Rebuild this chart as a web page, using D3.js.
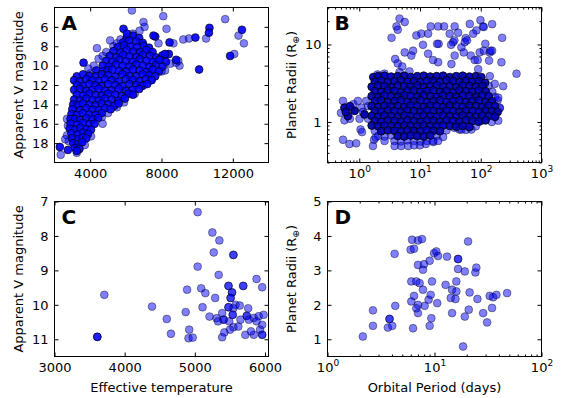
<!DOCTYPE html>
<html>
<head>
<meta charset="utf-8">
<script src="https://cdn.jsdelivr.net/npm/d3@7"></script>
<style>
  body { margin: 0; background: #fff; }
</style>
</head>
<body>
<svg id="fig" width="562" height="398"></svg>
<script>
// A: effective temperature (K) vs apparent V magnitude, all stars
// crowded locus (thousands of overlapping stars in the original)
const coreA = [
  [6050,7.1],[6400,6.9],[6750,7.15],
  [5850,7.6],[6200,7.4],[6580,7.5],[6950,7.65],
  [5550,8.1],[5900,7.9],[6250,8.05],[6620,8.1],[7000,7.95],[7300,8.15],
  [5300,8.5],[5700,8.65],[6050,8.4],[6420,8.55],[6800,8.6],[7150,8.4],[7500,8.6],
  [5100,9.0],[5450,9.15],[5850,8.9],[6200,9.05],[6600,9.1],[6950,8.9],[7350,9.0],[7700,9.15],[8050,8.95],
  [4900,9.5],[5250,9.6],[5650,9.4],[6000,9.55],[6400,9.6],[6780,9.35],[7150,9.5],[7520,9.65],[7880,9.4],[8250,9.6],
  [4700,10.0],[5050,10.1],[5450,9.9],[5820,10.05],[6200,10.1],[6580,9.9],[6950,10.0],[7320,10.15],[7700,9.9],[8050,10.1],
  [4350,10.5],[4700,10.6],[4980,10.45],[5250,10.4],[5620,10.55],[6000,10.6],[6400,10.4],[6780,10.5],[7150,10.65],[7520,10.4],[7850,10.6],
  [3250,11.1],[3600,10.9],[3950,11.05],[4300,11.1],[4650,10.9],[5000,11.0],[5400,11.15],[5800,10.9],[6200,11.05],[6580,11.1],[6950,10.9],[7300,11.0],[7650,11.1],
  [3100,11.5],[3420,11.65],[3780,11.4],[4130,11.55],[4480,11.6],[4830,11.4],[5200,11.5],[5600,11.65],[6000,11.4],[6380,11.5],[6760,11.6],[7120,11.4],[7450,11.5],
  [3250,12.0],[3600,12.1],[3950,11.9],[4300,12.05],[4650,12.1],[5000,11.9],[5400,12.0],[5800,12.15],[6200,11.9],[6580,12.0],[6920,12.1],[7200,11.9],
  [3100,12.5],[3420,12.4],[3780,12.6],[4130,12.5],[4480,12.4],[4830,12.6],[5200,12.55],[5600,12.4],[6000,12.6],[6380,12.5],[6750,12.4],
  [3250,13.0],[3600,13.1],[3950,12.9],[4300,13.05],[4650,13.1],[5000,12.9],[5400,13.0],[5780,13.15],[6150,12.9],[6400,13.0],
  [3100,13.5],[3420,13.6],[3780,13.4],[4130,13.55],[4480,13.6],[4830,13.4],[5200,13.5],[5580,13.65],[5950,13.4],
  [3050,14.0],[3300,14.1],[3600,13.9],[3950,14.05],[4300,14.1],[4650,13.9],[5000,14.0],[5350,14.15],[5600,13.9],
  [3000,14.5],[3420,14.6],[3780,14.4],[4130,14.55],[4480,14.6],[4830,14.4],[5150,14.5],
  [2950,15.0],[3250,15.1],[3600,14.9],[3950,15.05],[4300,15.1],[4650,14.9],
  [2900,15.5],[3150,15.5],[3420,15.6],[3780,15.4],[4130,15.55],[4450,15.4],
  [2900,16.0],[3250,16.1],[3600,15.9],[3950,16.05],[4250,16.0],
  [2850,16.5],[3150,16.6],[3450,16.4],[3780,16.55],[4050,16.6],
  [2950,17.0],[3300,17.1],[3600,16.9],[3880,17.05],
  [3000,17.5],[3300,17.6],[3600,17.4],[3780,17.5],
  [3050,18.0],[3300,18.1],[3550,17.9],
  [3150,18.5],[3400,18.6],[3250,18.8],
  [5870,6.2],[6060,6.7],[3630,9.7],[2300,18.4],[2750,18.7],
  [10690,6.1],[10660,6.6],[12510,6.3],[11850,9.0],[10110,10.4],[9900,7.1],
  [8450,7.6],[8820,9.4],[8410,8.8],[8200,8.8],[7890,9.4],[7650,7.0],[7550,6.9]
];
// scattered stars
const fieldA = [
  [6340,4.3],[8100,4.9],[6990,5.5],[7050,6.0],[8280,6.2],[11570,5.2],[10500,7.2],
  [12320,6.9],[12620,7.7],[12080,8.8],[9540,7.2],[9220,7.3],
  [8670,7.7],[9010,10.0],[8200,10.5],[7830,7.7],
  [8490,9.8],[8820,9.7],[7460,10.8],[6770,6.4],[6400,6.7],
  [5120,7.4],[4380,8.2],[4000,10.8],[4470,9.3],[8940,9.5],
  [4200,10.0],[3900,10.3],[4700,9.0],[4900,8.6],[5300,8.0],[5500,7.7],[5700,7.3],
  [4660,15.3],[5000,14.9],[5500,14.3],[5900,13.8],[6500,12.9],[7000,12.0],[7400,11.5],[8000,10.6],
  [2350,19.2],[2700,17.2],[2750,16.2],
  [2800,17.8],[2600,17.6],[3250,19.0],[3700,18.2],[4050,17.3],[2700,15.5],[4700,16.0]
];

// B: orbital period (days) vs planet radius (Earth radii), all candidates
const coreB = [
  [1.7,3.8],[2.05,3.9],[2.6,3.95],[3.35,3.85],[4.3,3.9],[5.5,3.95],[7.0,3.8],[9.0,3.9],[11.5,3.95],[14.7,3.85],[18.8,3.9],[24,3.95],[31,3.8],[39.5,3.9],[50.5,3.95],[65,3.85],[83,3.9],[102,3.8],
  [1.8,3.3],[2.3,3.4],[2.95,3.25],[3.8,3.35],[4.85,3.45],[6.2,3.3],[7.9,3.35],[10.2,3.25],[13,3.4],[16.6,3.35],[21.3,3.3],[27.3,3.45],[35,3.35],[44.7,3.25],[57,3.4],[73,3.3],[93,3.35],[118,3.2],
  [1.6,2.85],[2.05,2.95],[2.6,2.9],[3.35,2.8],[4.3,2.95],[5.5,2.9],[7.0,2.85],[9.0,2.95],[11.5,2.8],[14.7,2.9],[18.8,2.95],[24,2.85],[31,2.9],[39.5,2.8],[50.5,2.95],[65,2.9],[83,2.85],[106,2.9],
  [1.8,2.5],[2.3,2.45],[2.95,2.55],[3.8,2.5],[4.85,2.4],[6.2,2.5],[7.9,2.55],[10.2,2.45],[13,2.5],[16.6,2.55],[21.3,2.45],[27.3,2.5],[35,2.4],[44.7,2.55],[57,2.5],[73,2.45],[93,2.55],[120,2.5],
  [1.6,2.15],[2.05,2.1],[2.6,2.2],[3.35,2.15],[4.3,2.1],[5.5,2.2],[7.0,2.15],[9.0,2.1],[11.5,2.2],[14.7,2.15],[18.8,2.1],[24,2.2],[31,2.15],[39.5,2.1],[50.5,2.2],[65,2.15],[83,2.1],[106,2.2],[135,2.15],
  [1.8,1.85],[2.3,1.9],[2.95,1.8],[3.8,1.85],[4.85,1.9],[6.2,1.8],[7.9,1.85],[10.2,1.9],[13,1.8],[16.6,1.85],[21.3,1.9],[27.3,1.8],[35,1.85],[44.7,1.9],[57,1.8],[73,1.85],[93,1.9],[120,1.8],[152,1.85],
  [1.6,1.6],[2.05,1.55],[2.6,1.62],[3.35,1.58],[4.3,1.6],[5.5,1.55],[7.0,1.62],[9.0,1.6],[11.5,1.56],[14.7,1.62],[18.8,1.6],[24,1.55],[31,1.62],[39.5,1.6],[50.5,1.56],[65,1.62],[83,1.6],[106,1.55],[135,1.62],[172,1.6],
  [1.8,1.38],[2.3,1.35],[2.95,1.4],[3.8,1.38],[4.85,1.35],[6.2,1.4],[7.9,1.38],[10.2,1.35],[13,1.4],[16.6,1.38],[21.3,1.35],[27.3,1.4],[35,1.38],[44.7,1.35],[57,1.4],[73,1.38],[93,1.35],[120,1.4],[152,1.38],[190,1.35],
  [1.6,1.2],[2.05,1.17],[2.6,1.21],[3.35,1.19],[4.3,1.17],[5.5,1.21],[7.0,1.19],[9.0,1.17],[11.5,1.21],[14.7,1.19],[18.8,1.17],[24,1.21],[31,1.19],[39.5,1.17],[50.5,1.21],[65,1.19],[83,1.17],[106,1.21],[135,1.19],[172,1.17],
  [1.8,1.03],[2.3,1.01],[2.95,1.05],[3.8,1.03],[4.85,1.01],[6.2,1.05],[7.9,1.03],[10.2,1.01],[13,1.05],[16.6,1.03],[21.3,1.01],[27.3,1.05],[35,1.03],[44.7,1.01],[57,1.05],[73,1.03],[93,1.01],[120,1.05],
  [1.6,0.9],[2.05,0.88],[2.6,0.9],[3.35,0.89],[4.3,0.88],[5.5,0.9],[7.0,0.89],[9.0,0.88],[11.5,0.9],[14.7,0.89],[18.8,0.88],[24,0.9],[31,0.89],[39.5,0.87],[50.5,0.89],[65,0.86],
  [2.3,0.76],[2.95,0.78],[3.8,0.77],[4.85,0.76],[6.2,0.78],[7.9,0.77],[10.2,0.76],[13,0.78],[16.6,0.77],[21.3,0.76],
  [4.3,0.66],[5.5,0.65],[7.0,0.67],[9.0,0.66],[11.5,0.65],[14.7,0.67],
  [0.57,1.53],[0.65,1.19],[0.84,1.39],[1.22,1.25],[0.6,1.35],[0.7,1.6]
];
// candidates outside the crowded block
const fieldB = [
  [135,2.95],[155,2.45],[172,2.1],[190,1.9],[205,1.5],[172,1.17],[152,1.0],[83,0.88],
  [1.8,0.77],[27.3,0.78],[44.7,0.8],[57,0.79],[2.05,0.66],[2.6,0.65],[3.35,0.67],[18.8,0.66],[24,0.64],
  [3.8,0.57],[4.85,0.56],[6.2,0.58],[7.9,0.57],[10.2,0.56],[13,0.57],[16.6,0.55],
  [4.6,21.6],[5.6,19.5],[4.1,17.1],[4.3,15.5],[3.4,12.2],[15,17.1],[19.9,17.1],[24.9,17.1],
  [10.5,13.8],[13.6,13.8],[8.7,13.1],[20.3,10.2],[11.2,9.9],[37.2,17.1],[30.8,13.8],[42.4,14.2],
  [65.9,18.4],[98.8,20.6],[154,18.3],[109,17.1],[84.9,15.2],[75,13.8],[56.6,12.1],[35,10.7],
  [48,9.2],[96,7.9],[141,7.9],[154,8.3],[137,6.2],[219,5.9],[388,4.2],[234,2.9],
  [7.7,8.3],[7.2,7.2],[5.6,7.9],[13.6,7.6],[3.9,6.5],[4.3,5.7],[5.1,5.2],[16.4,6.3],
  [19.9,5.9],[32.9,5.6],[37.2,7.2],[68.4,7.2],[79.6,6.3],[54.5,10.7],[119,10.2],[90.6,4.8],
  [141,3.9],[170,3.1],[6.7,4.5],[4.6,4.4],[2.6,4.2],[2.0,4.1],[112,16.8],[225,12.2],
  [36.8,11.3],[59.6,11.3],[112,8.3],[145,8.3],[19.1,10.2],[32.5,9.9],[52.5,7.9],[89,6.3],
  [0.54,1.87],[0.5,1.31],[0.95,1.87],[1.08,1.53],[1.3,1.87],
  [1.01,1.1],[0.57,1.05],[0.54,0.59],[0.69,0.52],[0.89,0.53],[1.05,0.8],[1.11,0.74],
  [0.75,1.45],[0.8,1.7],[1.15,1.35],[0.7,1.1],[1.4,1.6],[1.4,1.1],
  [1.75,0.59],[1.86,0.63],[1.68,0.49],[2.61,0.57],[3.82,0.49],[4.9,0.49],[6.4,0.49],[8,0.5],
  [10,0.5],[12.5,0.52],[16.4,0.57],[19.9,0.57],[37,0.84],[48,0.8],[70,0.8],[103,1.04],
  [194,1.04],[206,1.53],[194,2.06]
];

// C: effective temperature vs V magnitude, selected stars
const starsC = [
  [5040,7.31],[5250,7.9],[5350,8.13],[5270,8.48],[5550,8.55],[5550,8.55],[5040,8.89],[5340,9.13],
  [5880,9.25],[5960,9.49],[5690,9.45],[5690,9.45],[5480,9.45],[5480,9.45],[5090,9.52],[4890,9.56],
  [3710,9.71],[5530,9.64],[5530,9.64],[5150,9.66],[5290,9.8],[5510,9.8],[5510,9.8],[5580,10.0],
  [5480,10.07],[5480,10.07],[5550,10.1],[5110,10.07],[4390,10.05],[4870,10.21],[5210,10.34],[5310,10.39],
  [5410,10.43],[5410,10.43],[5390,10.24],[5490,10.48],[5540,10.29],[5540,10.29],[5550,10.65],[5500,10.72],
  [5620,10.63],[5650,10.43],[5740,10.32],[5740,10.32],[5770,10.43],[5840,10.38],[5910,10.33],[5980,10.29],
  [5960,10.58],[5880,10.48],[4600,10.41],[4660,10.84],[4920,10.72],[4910,10.97],[4970,10.95],
  [3610,10.93],[3610,10.93],[3610,10.93],[5390,10.94],[5420,10.8],[5840,10.87],[5960,10.87],[5960,10.87],
  [5930,10.72],[5720,10.87],[5800,10.77],[5760,10.1],[5640,10.02],[5330,10.48]
];

// D: orbital period vs planet radius, selected planets
const planetsD = [
  [2.14,1.08],[2.66,1.84],[2.66,1.39],[3.67,1.34],[3.8,1.59],[3.8,1.59],[4.03,1.39],[4.24,3.48],
  [4.3,1.97],[5.98,3.6],[6.17,3.89],[6.44,3.63],[6.07,2.68],[6.07,2.1],[6.3,1.32],[6.44,2.26],
  [6.76,2.68],[7.01,1.76],[7.01,3.87],[7.64,3.91],[7.01,3.16],[7.26,2.63],[7.01,2.0],[6.76,1.9],
  [7.81,3.02],[7.98,3.18],[7.81,2.44],[8.09,1.97],[8.81,2.15],[9.01,3.28],[9.01,1.39],[9.21,2.29],
  [9.34,1.61],[9.48,2.68],[9.9,3.5],[10.4,3.55],[10.8,3.42],[10.6,2.05],[13.1,3.4],[12.7,2.58],
  [14.6,2.44],[14.6,1.76],[14.2,2.2],[15.7,2.17],[16.0,2.68],[16.0,2.39],[16.6,3.33],[16.6,3.33],
  [16.6,3.04],[18.5,0.79],[19.2,1.66],[19.2,2.97],[20.6,3.84],[20.9,1.86],[21.3,2.36],[24.1,2.94],
  [24.6,3.08],[25.2,2.17],[28.5,1.76],[31.0,1.49],[32.8,2.26],[34.5,1.91],[35.3,2.22],[37.9,2.29],
  [47.7,2.34]
];

// ticks
const teffTicksA = [4000, 8000, 12000];
const vmagTicksA = [6, 8, 10, 12, 14, 16, 18];
const periodTicksB = [1, 10, 100, 1000];
const radiusTicksB = [1, 10];
const teffTicksC = [3000, 4000, 5000, 6000];
const vmagTicksC = [7, 8, 9, 10, 11];
const periodTicksD = [1, 10, 100];
const radiusTicksD = [1, 2, 3, 4, 5];

const FONT = "DejaVu Sans, sans-serif";
const W = 214, H = 155;
const svg = d3.select("#fig");

// light = a lone semi-transparent marker, crowd = where markers pile up
const light = {fo: 0.5, so: 0.5, fill: "#0000ff"};
const crowdA = {fo: 0.92, so: 0.85, fill: "#0000ff"};
const crowdB = {fo: 0.95, so: 1, fill: "#0000b0"};

const panels = [
  {id: "A", left: 54.5, top: 7.5, x: d3.scaleLinear().domain([2000, 14000]), y: d3.scaleLinear().domain([20, 4]),
   layers: [[fieldA, light], [coreA, crowdA]], xt: teffTicksA, yt: vmagTicksA},
  {id: "B", left: 327.5, top: 7.5, x: d3.scaleLog().domain([0.3, 1000]), y: d3.scaleLog().domain([0.3, 30]),
   layers: [[fieldB, light], [coreB, crowdB]], xt: periodTicksB, yt: radiusTicksB, logX: true, logY: true, powX: true},
  {id: "C", left: 54.5, top: 201.5, x: d3.scaleLinear().domain([3000, 6050]), y: d3.scaleLinear().domain([11.5, 7]),
   layers: [[starsC, light]], xt: teffTicksC, yt: vmagTicksC},
  {id: "D", left: 327.5, top: 201.5, x: d3.scaleLog().domain([1, 100]), y: d3.scaleLinear().domain([0.5, 5]),
   layers: [[planetsD, light]], xt: periodTicksD, yt: radiusTicksD, logX: true, powX: true}
];

function notMajor(majors) {
  return v => !majors.some(m => Math.abs(m - v) / m < 1e-6);
}

function drawPanel(p) {
  const x = p.x.copy().range([p.left, p.left + W]);
  const y = p.y.copy().range([p.top + H, p.top]);
  const g = svg.append("g");

  svg.append("clipPath").attr("id", "clip" + p.id)
    .append("rect").attr("x", p.left).attr("y", p.top).attr("width", W).attr("height", H);

  const marks = g.append("g").attr("clip-path", `url(#clip${p.id})`);
  p.layers.forEach(([rows, st]) => {
    marks.append("g")
      .selectAll("circle")
      .data(rows)
      .join("circle")
      .attr("cx", d => x(d[0]))
      .attr("cy", d => y(d[1]))
      .attr("r", 3.9)
      .attr("fill", st.fill)
      .attr("fill-opacity", st.fo)
      .attr("stroke", "#000")
      .attr("stroke-opacity", st.so)
      .attr("stroke-width", 0.8);
  });

  const plain = d => String(d);

  const bottom = g.append("g").attr("transform", `translate(0,${p.top + H})`)
    .call(d3.axisBottom(x).tickValues(p.xt).tickSize(-4).tickSizeOuter(0).tickPadding(6).tickFormat(plain));
  g.append("g").attr("transform", `translate(0,${p.top})`)
    .call(d3.axisTop(x).tickValues(p.xt).tickSize(-4).tickSizeOuter(0).tickFormat(""));
  const left = g.append("g").attr("transform", `translate(${p.left},0)`)
    .call(d3.axisLeft(y).tickValues(p.yt).tickSize(-4).tickSizeOuter(0).tickPadding(6).tickFormat(plain));
  g.append("g").attr("transform", `translate(${p.left + W},0)`)
    .call(d3.axisRight(y).tickValues(p.yt).tickSize(-4).tickSizeOuter(0).tickFormat(""));

  // minor ticks on log axes
  if (p.logX) {
    const mx = x.ticks().filter(notMajor(p.xt));
    g.append("g").attr("transform", `translate(0,${p.top + H})`)
      .call(d3.axisBottom(x).tickValues(mx).tickSize(-2).tickSizeOuter(0).tickFormat(""));
    g.append("g").attr("transform", `translate(0,${p.top})`)
      .call(d3.axisTop(x).tickValues(mx).tickSize(-2).tickSizeOuter(0).tickFormat(""));
  }
  if (p.logY) {
    const my = y.ticks().filter(notMajor(p.yt));
    g.append("g").attr("transform", `translate(${p.left},0)`)
      .call(d3.axisLeft(y).tickValues(my).tickSize(-2).tickSizeOuter(0).tickFormat(""));
    g.append("g").attr("transform", `translate(${p.left + W},0)`)
      .call(d3.axisRight(y).tickValues(my).tickSize(-2).tickSizeOuter(0).tickFormat(""));
  }

  g.selectAll(".domain").remove();
  g.selectAll(".tick line").attr("stroke-width", 1);
  [bottom, left].forEach(s => s.attr("font-size", 13).attr("font-family", FONT));

  if (p.powX) {
    bottom.selectAll(".tick text").each(function(d) {
      const t = d3.select(this).text("");
      t.append("tspan").text("10");
      t.append("tspan").attr("dy", -6).attr("font-size", 9).text(Math.round(Math.log10(d)));
    });
  }

  g.append("rect")
    .attr("x", p.left).attr("y", p.top).attr("width", W).attr("height", H)
    .attr("fill", "none").attr("stroke", "#000").attr("stroke-width", 1);

  g.append("text")
    .attr("x", p.left + 7).attr("y", p.top + 22)
    .attr("font-family", FONT).attr("font-size", 20).attr("font-weight", "bold")
    .text(p.id);
}

panels.forEach(drawPanel);

// axis titles
function yTitle(xPos, yMid, build) {
  const t = svg.append("text")
    .attr("transform", `translate(${xPos},${yMid}) rotate(-90)`)
    .attr("text-anchor", "middle")
    .attr("font-family", FONT).attr("font-size", 13);
  build(t);
}
const magTitle = t => t.text("Apparent V magnitude");
const radTitle = t => {
  t.append("tspan").text("Planet Radii (R");
  t.append("tspan").attr("dy", 3).attr("font-size", 9).text("\u2295");
  t.append("tspan").attr("dy", -3).text(")");
};
yTitle(22.5, 7.5 + H / 2, magTitle);
yTitle(22.5, 201.5 + H / 2, magTitle);
yTitle(296, 7.5 + H / 2, radTitle);
yTitle(296, 201.5 + H / 2, radTitle);

svg.append("text").attr("x", 54.5 + W / 2).attr("y", 392)
  .attr("text-anchor", "middle").attr("font-family", FONT).attr("font-size", 13)
  .text("Effective temperature");
svg.append("text").attr("x", 327.5 + W / 2).attr("y", 392)
  .attr("text-anchor", "middle").attr("font-family", FONT).attr("font-size", 13)
  .text("Orbital Period (days)");
</script>
</body>
</html>
